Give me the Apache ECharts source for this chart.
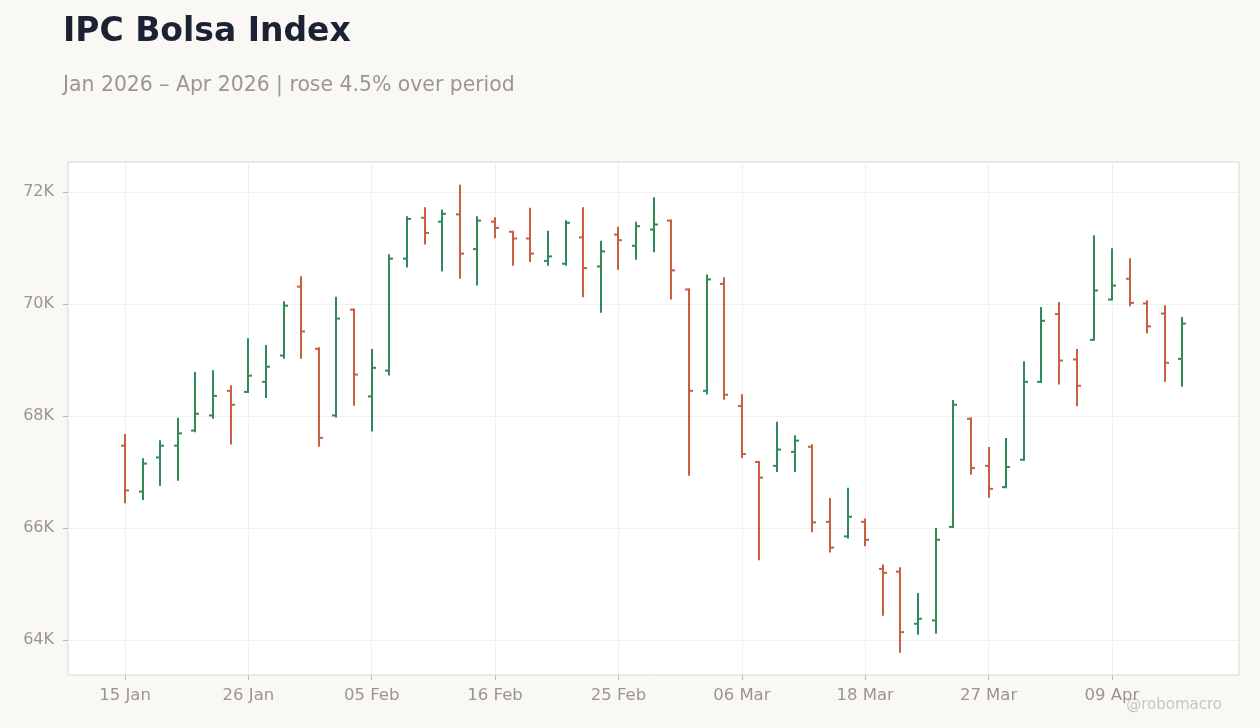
<!DOCTYPE html>
<html>
<head>
<meta charset="utf-8">
<script src="https://cdn.jsdelivr.net/npm/echarts@6/dist/echarts.min.js"></script>
<style>
html,body{margin:0;padding:0;background:#f9f8f5;}
#chart{width:1260px;height:728px;}
</style>
</head>
<body>
<div id="chart"></div>
<script>
const dates = ["15 Jan","16 Jan","19 Jan","20 Jan","21 Jan","22 Jan","23 Jan","26 Jan","27 Jan","28 Jan","29 Jan","30 Jan",
"03 Feb","04 Feb","05 Feb","06 Feb","09 Feb","10 Feb","11 Feb","12 Feb","13 Feb","16 Feb","17 Feb","18 Feb","19 Feb","20 Feb",
"23 Feb","24 Feb","25 Feb","26 Feb","27 Feb","02 Mar","03 Mar","04 Mar","05 Mar","06 Mar","09 Mar","10 Mar","11 Mar","12 Mar",
"13 Mar","17 Mar","18 Mar","19 Mar","20 Mar","23 Mar","24 Mar","25 Mar","26 Mar","27 Mar","30 Mar","31 Mar","01 Apr","06 Apr",
"07 Apr","08 Apr","09 Apr","10 Apr","13 Apr","14 Apr","15 Apr"];

const opens  = [67470,66650,67260,67470,67740,68010,68450,68430,68610,69080,70310,69200,68010,69900,68350,68810,70810,71540,71470,71600,70980,71470,71290,71170,70770,70720,71190,70670,71240,71040,71330,71490,70260,68450,70360,68180,67180,67110,67360,67450,66110,65850,66110,65270,65220,64290,64350,66020,67950,67110,66730,67220,68610,69820,69010,69360,70080,70450,70010,69830,69020];
const highs  = [67660,67230,67550,67950,68770,68800,68530,69370,69250,70030,70480,69210,70110,69900,69180,70870,71550,71710,71670,72110,71550,71530,71290,71700,71290,71480,71710,71110,71360,71450,71890,71490,70260,70510,70460,68370,67180,67880,67640,67480,66520,66700,66150,65330,65280,64820,65980,68270,67960,67430,67590,68960,69930,70020,69180,71210,70980,70800,70050,69960,69750];
const lows   = [66460,66520,66770,66860,67730,67970,67510,68430,68340,69040,69040,67470,67990,68200,67740,68740,70670,71080,70600,70470,70350,71190,70700,70770,70700,70700,70140,69860,70630,70810,70940,70100,66950,68400,68310,67270,65440,67020,67020,65940,65580,65830,65690,64450,63790,64110,64130,66020,66970,66560,66730,67220,68610,68580,68190,69360,70080,69980,69490,68630,68540];
const closes = [66670,67150,67470,67690,68040,68360,68200,68720,68880,69970,69510,67610,69740,68740,68860,70810,71520,71270,71610,70900,71490,71360,71170,70900,70850,71450,70640,70940,71140,71390,71420,70600,68450,70440,68380,67320,66900,67400,67560,66100,65650,66200,65790,65200,64140,64380,65790,68200,67070,66700,67090,68610,69700,68990,68540,70240,70330,70020,69600,68950,69650];

const xTickIdx = [0,7,14,21,28,35,42,49,56];
const yTicks = [64000,66000,68000,70000,72000];

const UP = '#2e8b57', DOWN = '#c95f40';
const data = dates.map((d,i)=>[i, opens[i], highs[i], lows[i], closes[i]]);

const chart = echarts.init(document.getElementById('chart'), null, {renderer:'canvas'});
const labelColor = '#9a958f';
const font = 'DejaVu Sans';

chart.setOption({
  backgroundColor: '#f9f8f5',
  animation: false,
  title: [
    {text:'IPC Bolsa Index', left:63, top:16, padding:0, textStyle:{fontFamily:font, fontSize:33, fontWeight:'bold', color:'#1b2333'}},
    {text:'Jan 2026 – Apr 2026 | rose 4.5% over period', left:63, top:76, padding:0, textStyle:{fontFamily:font, fontSize:20.4, fontWeight:'normal', color:'#9b9690'}}
  ],
  grid: {left:68, top:162, right:21, bottom:53, show:true, backgroundColor:'#ffffff', borderColor:'#ddd8d0', borderWidth:1, containLabel:false},
  xAxis: {
    type:'value', min:-3.234, max:63.21,
    axisLine:{show:false, onZero:false},
    axisTick:{show:true, length:5, lineStyle:{color:'#bdb8b1'}, customValues: xTickIdx},
    axisLabel:{customValues: xTickIdx, color:labelColor, fontFamily:font, fontSize:16.5, margin:12,
      formatter: v => dates[Math.round(v)] || ''},
    splitLine:{show:true, lineStyle:{color:'#f0f0f0', width:1}}
  },
  yAxis: {
    type:'value', min:63375, max:72536,
    axisLine:{show:false, onZero:false},
    axisTick:{show:true, length:5, lineStyle:{color:'#bdb8b1'}, customValues: yTicks},
    axisLabel:{customValues: yTicks, color:labelColor, fontFamily:font, fontSize:16, margin:14,
      formatter: v => Math.round(v/1000) + 'K'},
    splitLine:{show:true, lineStyle:{color:'#f0f0f0', width:1}}
  },
  series: [{
    type:'custom',
    data: data,
    encode:{x:0, y:[1,2,3,4]},
    renderItem: function(params, api){
      const x = api.value(0);
      const o = api.coord([x, api.value(1)]);
      const h = api.coord([x, api.value(2)]);
      const l = api.coord([x, api.value(3)]);
      const c = api.coord([x, api.value(4)]);
      const col = api.value(4) >= api.value(1) ? UP : DOWN;
      const st = {stroke:col, lineWidth:2};
      const cx = Math.round(o[0]);
      return {type:'group', children:[
        {type:'line', shape:{x1:cx, y1:h[1]-1, x2:cx, y2:l[1]+1}, style:st},
        {type:'line', shape:{x1:cx-4, y1:o[1], x2:cx, y2:o[1]}, style:st},
        {type:'line', shape:{x1:cx, y1:c[1], x2:cx+4, y2:c[1]}, style:st}
      ]};
    }
  }],
  graphic: [
    {type:'text', right:38, top:698, style:{text:'@robomacro', fontFamily:font, fontSize:15, fill:'#c9c5bf'}}
  ]
});
</script>
</body>
</html>
